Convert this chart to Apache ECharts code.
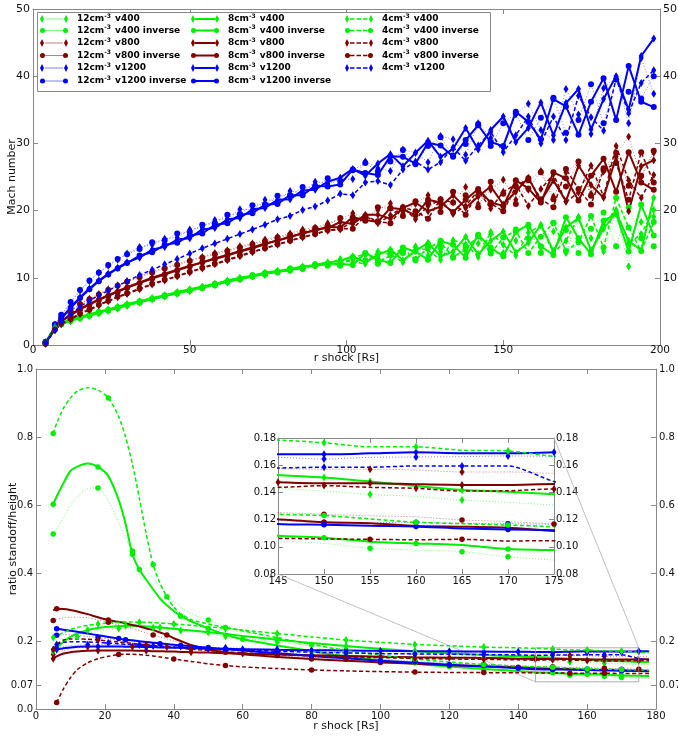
<!DOCTYPE html>
<html>
<head>
<meta charset="utf-8">
<script src="https://cdn.jsdelivr.net/npm/echarts@6/dist/echarts.min.js"></script>
<style>
html, body { margin: 0; padding: 0; background: #fff; }
#chart { width: 678px; height: 736px; }
</style>
</head>
<body>
<div id="chart"></div>
<script>
// ---------- Mach number vs shock radius (upper panel) ----------
const rTop = [4,7,9,12,15,18,21,24,27,30,34,38,42,46,50,54,58,62,66,70,74,78,82,86,90,94,98,102,106,110,114,118,122,126,130,134,138,142,146,150,154,158,162,166,170,174,178,182,186,190,194,198];

const machG12  = [0.2,2.5,3.1,3.5,3.9,4.3,4.7,5.1,5.4,5.8, 6.3,6.8,7.2,7.6,8.0,8.5,8.9,9.3,9.8,10.2, 10.4,10.9,11.1,11.4,11.9,12.1, 12.6,12.1,13.4,13.2,12.4,13.9,14.7,13.3,13.9,15.5,13.5,15.1,16.5,13.7,15.5,17.5,13.9,16.9,13.7,18.9,15.9,13.9,19.9,11.7,18.3,19.1];
const machG12i = [0.3,2.6,3.2,3.7,4.1,4.5,4.9,5.2,5.6,6.0, 6.5,6.9,7.4,7.8,8.2,8.6,9.1,9.5,9.9,10.4, 10.7,10.8,11.4,11.3,12.0,11.8, 11.8,13.1,12.6,12.1,14.0,13.7,12.8,15.0,14.5,13.0,14.7,16.2,14.1,13.5,17.2,15.9,13.7,18.1,17.1,13.7,17.3,19.7,14.7,20.5,15.9,14.7];
const machG8   = [0.4,2.7,3.3,3.8,4.2,4.6,5.0,5.3,5.7,6.1, 6.5,7.0,7.4,7.9,8.3,8.7,9.1,9.6,10.0,10.3, 10.8,11.0,11.3,11.7,11.9,12.3, 12.5,13.2,12.3,13.4,14.2,12.6,14.0,15.2,13.2,13.9,16.1,13.5,15.5,16.9,13.8,15.2,17.9,14.0,17.5,18.9,14.1,17.3,19.7,15.5,14.1,21.9];
const machG8i  = [0.3,2.4,3.1,3.6,4.0,4.4,4.8,5.2,5.5,5.9, 6.4,6.8,7.3,7.7,8.1,8.5,9.0,9.4,9.8,10.2, 10.6,10.9,11.1,11.6,11.8,12.1, 12.1,11.9,13.7,12.7,12.2,14.5,13.9,12.7,15.5,14.9,13.0,16.4,14.5,13.2,16.8,17.9,14.7,13.4,19.0,15.9,13.5,18.5,19.5,13.9,20.9,16.3];
const machG4   = [0.3,2.5,3.2,3.7,4.1,4.5,4.9,5.2,5.6,6.0, 6.4,6.9,7.3,7.8,8.2,8.6,9.0,9.5,9.9,10.3, 10.6,11.0,11.2,11.5,11.9,12.0, 12.8,12.3,12.1,13.9,13.5,12.3,14.5,14.1,12.7,15.6,15.0,13.1,16.8,14.9,13.3,16.7,17.8,13.7,15.5,19.1,13.9,17.9,20.1,15.1,16.5,20.1];
const machG4i  = [0.2,2.4,3.1,3.6,4.0,4.4,4.8,5.1,5.5,5.9, 6.3,6.8,7.2,7.7,8.1,8.5,8.9,9.4,9.8,10.2, 10.5,10.9,11.2,11.4,11.8,12.1, 11.9,12.9,13.6,12.3,13.3,14.4,12.6,14.5,15.3,13.1,14.2,16.3,13.6,16.0,17.0,13.7,16.1,18.2,14.0,15.3,19.2,14.5,21.9,17.5,14.0,18.3];

const machR12  = [0.3,2.8,3.9,5.0,6.0,6.9,7.6,8.3,8.9,9.5, 10.2,10.9,11.5,12.1,12.6,13.1,13.7,14.1,14.7,15.1, 15.7,16.1,16.6,17.2,17.5,18.1, 18.7,19.6,18.8,20.1,21.1,19.6,21.0,22.3,20.4,21.2,23.5,21.0,23.1,24.6,21.6,23.1,25.9,22.1,25.7,27.2,22.5,25.8,28.3,31.0,25.0,28.6];
const machR12i = [0.4,2.9,4.0,5.1,6.1,6.8,7.5,8.2,8.8,9.4, 10.1,10.8,11.4,11.9,12.5,13.0,13.5,14.0,14.5,15.0, 15.4,16.0,16.4,16.9,17.4,17.8, 18.9,18.6,18.5,20.5,20.3,19.2,21.4,21.1,19.8,22.8,22.3,20.5,24.3,22.5,21.0,24.5,25.7,21.7,23.6,27.3,22.2,26.3,28.6,23.7,25.2,28.9];
const machR8   = [0.3,2.5,3.6,4.5,5.4,6.1,6.8,7.4,8.0,8.6, 9.3,10.0,10.6,11.2,11.8,12.3,12.9,13.4,14.0,14.5, 15.1,15.5,16.2,16.5,17.2,17.4, 18.3,18.0,19.4,19.4,18.8,20.4,21.2,19.9,20.6,22.3,20.4,22.1,23.6,20.9,22.8,24.9,21.4,24.5,21.4,26.7,23.8,21.9,28.0,19.9,26.6,27.5];
const machR8i  = [0.3,2.4,3.5,4.4,5.3,6.0,6.7,7.3,7.9,8.5, 9.2,9.9,10.5,11.1,11.7,12.3,12.8,13.3,13.9,14.4, 15.0,15.6,16.0,16.7,17.0,17.6, 17.5,19.0,18.6,18.3,20.4,20.2,19.3,21.6,21.2,19.8,21.6,23.2,21.2,20.7,24.5,23.3,21.2,25.7,24.8,21.5,25.2,27.7,22.8,28.7,24.2,23.1];
const machR4   = [0.2,2.2,3.1,3.8,4.6,5.2,5.9,6.5,7.1,7.6, 8.3,9.0,9.6,10.2,10.8,11.4,12.0,12.6,13.2,13.8, 14.4,14.9,15.5,16.0,16.5,17.0, 17.2,18.4,19.2,18.1,19.3,20.5,18.7,20.7,21.6,19.5,20.7,23.0,20.3,22.8,23.9,20.7,23.2,25.4,21.3,22.7,26.7,22.1,29.6,24.5,21.9,25.3];
const machR4i  = [0.2,2.3,3.2,3.9,4.7,5.3,6.0,6.6,7.2,7.7, 8.4,9.1,9.7,10.3,10.9,11.5,12.1,12.7,13.3,13.9, 14.4,15.0,15.5,16.1,16.5,17.1, 17.3,17.3,19.2,18.4,18.1,20.5,19.9,18.8,21.7,21.2,19.4,22.9,21.1,19.9,23.6,24.8,21.7,20.5,26.2,23.2,20.9,26.0,27.1,21.6,28.7,24.2];

const machB12  = [0.4,3.0,4.4,6.3,8.1,9.5,10.7,11.8,12.7,13.6, 14.6,14.9,15.8,16.0,17.2,17.5,18.6,18.8,20.2,20.1,21.6,21.5,22.9,22.7,24.3,24.0, 24.6,24.7,27.3,26.3,25.9,29.1,28.6,27.2,31.1,30.6,28.3,33.0,30.8,29.3,34.3,35.9,32.0,30.5,38.1,34.3,31.4,38.2,39.9,33.0,42.7,37.4];
const machB12i = [0.5,3.1,4.5,6.4,8.2,9.6,10.8,11.9,12.8,13.5, 14.3,15.3,15.6,16.6,16.8,17.9,18.1,19.4,19.5,20.8,20.9,22.2,22.2,23.5,23.4,24.8, 24.4,26.0,27.1,25.8,27.3,29.0,26.9,29.6,30.9,28.2,29.9,32.9,29.6,33.0,34.5,30.5,33.8,36.8,31.6,33.5,38.8,33.0,39.5,37.7,36.7,40.0];
const machB8   = [0.3,2.6,4.0,5.6,7.1,8.4,9.6,10.6,11.5,12.3, 13.0,14.2,14.6,15.7,15.9,17.2,17.4,18.7,18.9,20.2,20.4,21.6,21.7,23.0,23.1,24.3, 24.9,26.2,25.2,27.0,28.4,26.6,28.6,30.4,28.0,29.2,32.3,29.1,32.0,34.0,30.2,32.3,36.1,31.2,36.0,38.1,32.1,36.6,40.0,35.0,43.0,45.6];
const machB8i  = [0.3,2.5,3.9,5.5,7.0,8.3,9.5,10.5,11.4,12.2, 13.3,13.8,14.9,15.2,16.3,16.6,17.9,18.1,19.4,19.6,20.9,21.0,22.3,22.3,23.7,23.6, 23.9,26.1,25.6,25.3,28.1,28.0,27.0,30.1,29.7,28.0,30.5,32.7,30.2,29.6,34.7,33.2,30.6,36.6,35.5,31.3,36.2,39.7,33.5,41.5,36.2,35.4];
const machB4   = [0.3,2.2,3.5,4.6,5.7,6.6,7.4,8.1,8.8,9.5, 10.4,11.2,12.0,12.8,13.6,14.4,15.1,15.8,16.5,17.2, 17.9,18.7,19.2,20.1,20.6,21.5, 22.5,22.3,24.2,24.4,23.8,26.1,27.3,26.1,27.2,29.4,27.4,29.7,31.7,28.7,31.2,34.0,30.0,34.0,30.5,37.1,33.9,31.9,39.6,34.5,39.0,40.9];

// ---------- standoff / height ratio vs shock radius (lower panel) ----------
const rRatio = [5,6,8,10,12,15,18,21,24,26, 28,30,32,34,36,38,40,42,45,50, 55,60,70,80,90,100,110,120,130,140, 145,150,155,160,165,170,175,178];

const ratioG12  = [0.175,0.18,0.195,0.205,0.213,0.222,0.229,0.234,0.237,0.239, 0.24,0.24,0.24,0.239,0.237,0.235,0.233,0.231,0.227,0.221, 0.214,0.208,0.197,0.186,0.176,0.168,0.161,0.155,0.15,0.146, 0.143,0.141,0.1386,0.137,0.1344,0.1327,0.1307,0.1302];
const ratioG12i = [0.515,0.53,0.565,0.60,0.625,0.648,0.65,0.612,0.548,0.503, 0.465,0.436,0.41,0.385,0.36,0.338,0.318,0.3,0.28,0.262, 0.245,0.23,0.205,0.183,0.164,0.149,0.136,0.125,0.116,0.108, 0.1043,0.1025,0.0989,0.0976,0.0964,0.0927,0.0903,0.0895];
const ratioG8   = [0.17,0.18,0.198,0.212,0.222,0.232,0.238,0.242,0.244,0.245, 0.245,0.244,0.243,0.242,0.24,0.238,0.236,0.234,0.231,0.226, 0.221,0.215,0.204,0.194,0.185,0.177,0.17,0.164,0.159,0.155, 0.1528,0.151,0.148,0.1447,0.1418,0.1405,0.1386,0.138];
const ratioG8i  = [0.602,0.625,0.665,0.70,0.713,0.722,0.712,0.685,0.615,0.545, 0.455,0.41,0.38,0.352,0.325,0.305,0.288,0.273,0.258,0.237, 0.219,0.205,0.187,0.17,0.155,0.143,0.133,0.125,0.118,0.112, 0.1082,0.1067,0.1038,0.1025,0.1013,0.0983,0.0976,0.0972];
const ratioG4   = [0.21,0.215,0.225,0.233,0.24,0.246,0.25,0.253,0.255,0.256, 0.256,0.255,0.255,0.254,0.253,0.252,0.25,0.249,0.246,0.242, 0.237,0.232,0.222,0.212,0.203,0.196,0.19,0.186,0.182,0.18, 0.1785,0.1765,0.1735,0.1735,0.171,0.1705,0.1665,0.166];
const ratioG4i  = [0.81,0.84,0.885,0.915,0.935,0.945,0.938,0.915,0.86,0.80, 0.72,0.62,0.515,0.425,0.37,0.33,0.30,0.28,0.263,0.25, 0.24,0.23,0.21,0.19,0.172,0.158,0.147,0.138,0.131,0.126, 0.1239,0.123,0.1205,0.118,0.117,0.116,0.1148,0.1142];

const ratioR12  = [0.16,0.165,0.172,0.177,0.18,0.183,0.184,0.185,0.185,0.185, 0.184,0.184,0.183,0.183,0.182,0.182,0.181,0.18,0.179,0.177, 0.175,0.174,0.171,0.168,0.166,0.164,0.162,0.161,0.159,0.158, 0.1575,0.157,0.157,0.1565,0.155,0.155,0.154,0.1538];
const ratioR12i = [0.26,0.264,0.268,0.27,0.27,0.268,0.262,0.255,0.247,0.242, 0.236,0.23,0.224,0.218,0.212,0.206,0.2,0.195,0.188,0.178, 0.171,0.165,0.157,0.151,0.146,0.142,0.138,0.134,0.131,0.1275, 0.1253,0.1239,0.1228,0.122,0.1197,0.1185,0.1168,0.116];
const ratioR8   = [0.148,0.155,0.163,0.167,0.169,0.171,0.172,0.172,0.172,0.172, 0.172,0.171,0.171,0.17,0.17,0.169,0.169,0.168,0.167,0.166, 0.164,0.163,0.16,0.158,0.156,0.154,0.152,0.151,0.15,0.148, 0.1474,0.1467,0.1467,0.146,0.1455,0.1455,0.1462,0.146];
const ratioR8i  = [0.29,0.295,0.294,0.291,0.287,0.279,0.27,0.262,0.256,0.252, 0.247,0.243,0.237,0.232,0.225,0.218,0.208,0.2,0.188,0.175, 0.167,0.161,0.153,0.147,0.142,0.137,0.133,0.129,0.126,0.1225, 0.1202,0.118,0.1173,0.1153,0.1148,0.114,0.1116,0.111];
const ratioR4   = [0.175,0.19,0.203,0.206,0.206,0.205,0.203,0.2,0.197,0.195, 0.193,0.191,0.189,0.187,0.185,0.183,0.181,0.179,0.176,0.172, 0.168,0.165,0.16,0.156,0.153,0.151,0.149,0.147,0.146,0.1445, 0.1437,0.145,0.1437,0.143,0.141,0.1412,0.1425,0.1425];
const ratioR4i  = [null,0.019,0.06,0.092,0.116,0.136,0.148,0.155,0.16,0.161, 0.161,0.16,0.158,0.156,0.153,0.15,0.147,0.144,0.14,0.133, 0.128,0.124,0.119,0.115,0.112,0.11,0.1085,0.1075,0.107,0.1065, 0.1062,0.1058,0.1055,0.1052,0.1055,0.1043,0.1045,0.1043];

const ratioB12  = [null,0.18,0.184,0.186,0.188,0.189,0.19,0.19,0.19,0.189, 0.189,0.188,0.188,0.187,0.186,0.186,0.185,0.184,0.183,0.182, 0.18,0.179,0.176,0.174,0.172,0.17,0.169,0.168,0.167,0.166, 0.1658,0.1645,0.1658,0.166,0.1663,0.1668,0.1665,0.1665];
const ratioB12i = [null,0.217,0.219,0.218,0.216,0.213,0.21,0.206,0.203,0.201, 0.199,0.197,0.195,0.194,0.192,0.19,0.189,0.187,0.185,0.181, 0.177,0.173,0.166,0.159,0.152,0.146,0.14,0.134,0.128,0.123, 0.1195,0.118,0.1177,0.118,0.1172,0.117,0.1165,0.116];
const ratioB8   = [null,0.175,0.179,0.181,0.183,0.184,0.184,0.184,0.184,0.183, 0.183,0.183,0.182,0.182,0.181,0.181,0.18,0.18,0.179,0.178, 0.177,0.176,0.174,0.173,0.172,0.171,0.17,0.1695,0.169,0.1683, 0.168,0.168,0.1687,0.1695,0.1688,0.1688,0.1695,0.1698];
const ratioB8i  = [null,0.236,0.233,0.23,0.227,0.222,0.217,0.212,0.207,0.204, 0.202,0.199,0.197,0.195,0.193,0.191,0.189,0.187,0.185,0.18, 0.176,0.172,0.164,0.156,0.149,0.142,0.136,0.13,0.125,0.12, 0.1168,0.1162,0.1155,0.115,0.1135,0.1128,0.1122,0.112];
const ratioB4   = [null,0.19,0.196,0.198,0.198,0.197,0.196,0.194,0.192,0.19, 0.189,0.188,0.186,0.185,0.184,0.183,0.182,0.181,0.179,0.177, 0.175,0.173,0.17,0.167,0.165,0.163,0.162,0.161,0.16,0.159, 0.158,0.1585,0.1585,0.1595,0.1595,0.1595,0.148,0.145];

// samples of the ratio curves that carry a marker
const marksG12 = [0,4,8,13,17,20,22,24,26,28,32,34];
const marksG12i = [0,6,10,19,22,24,26,28,32,34,35];
const marksR12 = [0,5,10,15,19,22,24,26,28,32,34];
const marksR12i = [0,7,13,19,22,24,26,28,31,34,36];
const marksB12 = [1,5,11,17,20,22,24,26,28,31,33,35];
const marksB12i = [1,6,14,19,22,24,26,28,31,33,35];
const marksG8 = [0,5,9,14,19,22,24,26,28,31,32,34];
const marksG8i = [0,6,10,11,17,19,21,23,25,27,31,33,35];
const marksR8 = [0,6,12,18,21,23,25,27,30,32,34];
const marksR8i = [1,7,15,20,23,25,27,29,31,35];
const marksB8 = [1,6,12,18,21,23,25,27,29,31,33,36];
const marksB8i = [1,8,9,17,20,23,25,27,29,31,33,35];
const marksG4 = [0,6,11,16,20,22,24,26,28,31,33,35];
const marksG4i = [0,7,13,15,20,23,26,28,31,33,35];
const marksR4 = [0,6,12,18,22,24,26,28,31,33,36];
const marksR4i = [1,8,16,20,23,26,28,32,34];
const marksB4 = [1,7,13,19,22,24,26,28,31,34];

// axis tick labels of the ratio panel and zoomed window
const ratioTicksLeft = [0, 0.07, 0.2, 0.4, 0.6, 0.8, 1.0];
const ratioTicksRight = [0.07, 0.2, 0.4, 0.6, 0.8, 1.0];
const insetX = [145, 175];
const insetY = [0.08, 0.18];

const runs = [
  { name: '12cm-3 v400',          dens: 12, vel: 400,  inv: false, mach: machG12,  ratio: ratioG12,  marks: marksG12 },
  { name: '12cm-3 v400 inverse',  dens: 12, vel: 400,  inv: true,  mach: machG12i, ratio: ratioG12i, marks: marksG12i },
  { name: '12cm-3 v800',          dens: 12, vel: 800,  inv: false, mach: machR12,  ratio: ratioR12,  marks: marksR12 },
  { name: '12cm-3 v800 inverse',  dens: 12, vel: 800,  inv: true,  mach: machR12i, ratio: ratioR12i, marks: marksR12i },
  { name: '12cm-3 v1200',         dens: 12, vel: 1200, inv: false, mach: machB12,  ratio: ratioB12,  marks: marksB12 },
  { name: '12cm-3 v1200 inverse', dens: 12, vel: 1200, inv: true,  mach: machB12i, ratio: ratioB12i, marks: marksB12i },
  { name: '8cm-3 v400',           dens: 8,  vel: 400,  inv: false, mach: machG8,   ratio: ratioG8,   marks: marksG8 },
  { name: '8cm-3 v400 inverse',   dens: 8,  vel: 400,  inv: true,  mach: machG8i,  ratio: ratioG8i,  marks: marksG8i },
  { name: '8cm-3 v800',           dens: 8,  vel: 800,  inv: false, mach: machR8,   ratio: ratioR8,   marks: marksR8 },
  { name: '8cm-3 v800 inverse',   dens: 8,  vel: 800,  inv: true,  mach: machR8i,  ratio: ratioR8i,  marks: marksR8i },
  { name: '8cm-3 v1200',          dens: 8,  vel: 1200, inv: false, mach: machB8,   ratio: ratioB8,   marks: marksB8 },
  { name: '8cm-3 v1200 inverse',  dens: 8,  vel: 1200, inv: true,  mach: machB8i,  ratio: ratioB8i,  marks: marksB8i },
  { name: '4cm-3 v400',           dens: 4,  vel: 400,  inv: false, mach: machG4,   ratio: ratioG4,   marks: marksG4 },
  { name: '4cm-3 v400 inverse',   dens: 4,  vel: 400,  inv: true,  mach: machG4i,  ratio: ratioG4i,  marks: marksG4i },
  { name: '4cm-3 v800',           dens: 4,  vel: 800,  inv: false, mach: machR4,   ratio: ratioR4,   marks: marksR4 },
  { name: '4cm-3 v800 inverse',   dens: 4,  vel: 800,  inv: true,  mach: machR4i,  ratio: ratioR4i,  marks: marksR4i },
  { name: '4cm-3 v1200',          dens: 4,  vel: 1200, inv: false, mach: machB4,   ratio: ratioB4,   marks: marksB4 }
];

// ---------- styling ----------
const colorOf = { 400: '#00ee00', 800: '#800000', 1200: '#0000ff' };
const lineOf = {
  12: { type: [1, 2], width: 1, opacity: 0.5 },
  8:  { type: 'solid', width: 2, opacity: 1 },
  4:  { type: [4, 2.5], width: 1.5, opacity: 1 }
};
const FONT = 'DejaVu Sans';
const GRAY = '#888';

function points(xs, ys, marks) {
  const out = [];
  xs.forEach((x, i) => {
    if (ys[i] == null) return;
    if (marks && marks.indexOf(i) < 0) out.push({ value: [x, ys[i]], symbol: 'none' });
    else out.push([x, ys[i]]);
  });
  return out;
}

function legendIcon(run) {
  let p = run.inv
    ? 'M0 4A2.5 2.5 0 1 1 5 4A2.5 2.5 0 1 1 0 4ZM23 4A2.5 2.5 0 1 1 28 4A2.5 2.5 0 1 1 23 4Z'
    : 'M0 4L2 0L4 4L2 8ZM24 4L26 0L28 4L26 8Z';
  if (run.dens === 8) p += 'M4 3L24 3L24 5L4 5Z';
  else if (run.dens === 4) [5, 11.5, 18].forEach(x => { p += 'M' + x + ' 3.3L' + (x + 4.5) + ' 3.3L' + (x + 4.5) + ' 4.7L' + x + ' 4.7Z'; });
  else for (let x = 5.5; x < 23; x += 2) p += 'M' + x + ' 3.5L' + (x + 1) + ' 3.5L' + (x + 1) + ' 4.5L' + x + ' 4.5Z';
  return 'path://' + p;
}

function baseSeries(run, xi, top) {
  return {
    type: 'line',
    name: run.name,
    xAxisIndex: xi,
    yAxisIndex: xi,
    symbol: run.inv ? 'circle' : 'diamond',
    symbolSize: run.inv ? (top ? 6 : 5.5) : [5, 8],
    showSymbol: true,
    showAllSymbol: true,
    itemStyle: { color: colorOf[run.vel] },
    lineStyle: { color: colorOf[run.vel], type: lineOf[run.dens].type, width: lineOf[run.dens].width, opacity: lineOf[run.dens].opacity },
    emphasis: { disabled: true },
    silent: true,
    clip: true,
    animation: false
  };
}

const series = [];
runs.forEach(run => {
  series.push(Object.assign(baseSeries(run, 0, true), { data: points(rTop, run.mach) }));
  series.push(Object.assign(baseSeries(run, 2, false), { data: points(rRatio, run.ratio, run.marks), smooth: 0.25 }));
  series.push(Object.assign(baseSeries(run, 4, false), { data: points(rRatio, run.ratio, run.marks), smooth: 0.25 }));
});

// legend: three columns (12, 8, 4 cm^-3), one entry per run
const colX = [40, 191, 345];
const rowY = [19, 30.5, 43, 55.5, 68, 81];
const legends = runs.map(run => {
  const col = run.dens === 12 ? 0 : run.dens === 8 ? 1 : 2;
  const row = runs.filter(r => r.dens === run.dens).indexOf(run);
  return {
    data: [run.name],
    left: colX[col],
    top: rowY[row] - 6,
    padding: 0,
    itemWidth: 28,
    itemHeight: 8,
    icon: legendIcon(run),
    selectedMode: false,
    formatter: name => name.replace('cm-3', 'cm{s|-3}'),
    textStyle: {
      fontFamily: FONT, fontWeight: 'bold', fontSize: 9, color: '#000', lineHeight: 12,
      padding: [0, 0, 0, 4],
      rich: { s: { fontFamily: FONT, fontWeight: 'bold', fontSize: 6, lineHeight: 7, verticalAlign: 'top', padding: [0, 1, 0, 0] } }
    }
  };
});

function frameAxis(extra) {
  return Object.assign({
    type: 'value',
    nameMoveOverlap: false,
    axisLine: { show: true, onZero: false, lineStyle: { color: GRAY, width: 1 } },
    axisTick: { show: true, inside: true, length: 5, lineStyle: { color: GRAY } },
    splitLine: { show: false },
    axisLabel: { show: false }
  }, extra);
}
const lbl = (size, margin, extra) => Object.assign({ show: true, fontFamily: FONT, fontSize: size, color: '#111', margin: margin }, extra || {});
const nameStyle = { fontFamily: FONT, fontSize: 11, color: '#111' };
const ratioFmt = v => (Math.abs(v - 0.07) < 1e-9 ? '0.07' : v.toFixed(1));
const fixedGrid = { containLabel: false, outerBoundsMode: 'none' };

const option = {
  animation: false,
  backgroundColor: '#fff',
  textStyle: { fontFamily: FONT },
  grid: [
    Object.assign({ left: 33, top: 9, width: 627, height: 336 }, fixedGrid),
    Object.assign({ left: 36, top: 369, width: 620, height: 340 }, fixedGrid),
    Object.assign({ left: 278, top: 438, width: 276, height: 136 }, fixedGrid)
  ],
  xAxis: [
    frameAxis({ gridIndex: 0, position: 'bottom', min: 0, max: 200, interval: 50, axisLabel: lbl(10.5, 0),
      name: 'r shock [Rs]', nameLocation: 'middle', nameGap: 8, nameTextStyle: nameStyle }),
    frameAxis({ gridIndex: 0, position: 'top', min: 0, max: 200, interval: 50 }),
    frameAxis({ gridIndex: 1, position: 'bottom', min: 0, max: 180, interval: 20, axisLabel: lbl(10, 2),
      name: 'r shock [Rs]', nameLocation: 'middle', nameGap: 12, nameTextStyle: nameStyle }),
    frameAxis({ gridIndex: 1, position: 'top', min: 0, max: 180, interval: 20 }),
    frameAxis({ gridIndex: 2, position: 'bottom', min: insetX[0], max: insetX[1], interval: 5, axisLabel: lbl(10, 2) }),
    frameAxis({ gridIndex: 2, position: 'top', min: insetX[0], max: insetX[1], interval: 5 })
  ],
  yAxis: [
    frameAxis({ gridIndex: 0, position: 'left', min: 0, max: 50, interval: 10, axisLabel: lbl(11, 3),
      name: 'Mach number', nameLocation: 'middle', nameGap: 15, nameTextStyle: nameStyle }),
    frameAxis({ gridIndex: 0, position: 'right', min: 0, max: 50, interval: 10, axisLabel: lbl(11, 3, { showMinLabel: false }) }),
    frameAxis({ gridIndex: 1, position: 'left', min: 0, max: 1,
      axisTick: { show: true, inside: true, length: 5, lineStyle: { color: GRAY }, customValues: ratioTicksLeft },
      axisLabel: lbl(10, 3, { customValues: ratioTicksLeft, formatter: ratioFmt }),
      name: 'ratio standoff/height', nameLocation: 'middle', nameGap: 17, nameTextStyle: nameStyle }),
    frameAxis({ gridIndex: 1, position: 'right', min: 0, max: 1,
      axisTick: { show: true, inside: true, length: 5, lineStyle: { color: GRAY }, customValues: ratioTicksRight },
      axisLabel: lbl(10, 3, { customValues: ratioTicksRight, formatter: ratioFmt }) }),
    frameAxis({ gridIndex: 2, position: 'left', min: insetY[0], max: insetY[1], interval: 0.02,
      axisLabel: lbl(10, 2, { formatter: v => v.toFixed(2) }) }),
    frameAxis({ gridIndex: 2, position: 'right', min: insetY[0], max: insetY[1], interval: 0.02,
      axisLabel: lbl(10, 2, { formatter: v => v.toFixed(2) }) })
  ],
  legend: legends,
  series: series
};

const chart = echarts.init(document.getElementById('chart'), null, { renderer: 'canvas' });
chart.setOption(option);

// zoom box in the ratio panel and the lines joining it to the zoomed window
const px = (axis, v) => chart.convertToPixel({ xAxisIndex: axis, yAxisIndex: axis }, v);
const boxLo = px(2, [insetX[0], insetY[0]]);
const boxHi = px(2, [insetX[1], insetY[1]]);
const winLo = px(4, [insetX[0], insetY[0]]);
const winHi = px(4, [insetX[1], insetY[1]]);
chart.setOption({
  graphic: [
    { type: 'rect', z: 3, silent: true, shape: { x: 37.5, y: 12.5, width: 453, height: 79 },
      style: { fill: '#fff', stroke: GRAY, lineWidth: 1 } },
    { type: 'rect', z: 5, silent: true,
      shape: { x: boxLo[0], y: boxHi[1], width: boxHi[0] - boxLo[0], height: boxLo[1] - boxHi[1] },
      style: { fill: 'none', stroke: '#999', lineWidth: 0.8 } },
    { type: 'line', z: 1, silent: true, shape: { x1: winLo[0], y1: winLo[1], x2: boxLo[0], y2: boxLo[1] },
      style: { stroke: '#b0b0b0', lineWidth: 0.8 } },
    { type: 'line', z: 1, silent: true, shape: { x1: winHi[0], y1: winHi[1], x2: boxHi[0], y2: boxHi[1] },
      style: { stroke: '#b0b0b0', lineWidth: 0.8 } }
  ]
});
</script>
</body>
</html>
